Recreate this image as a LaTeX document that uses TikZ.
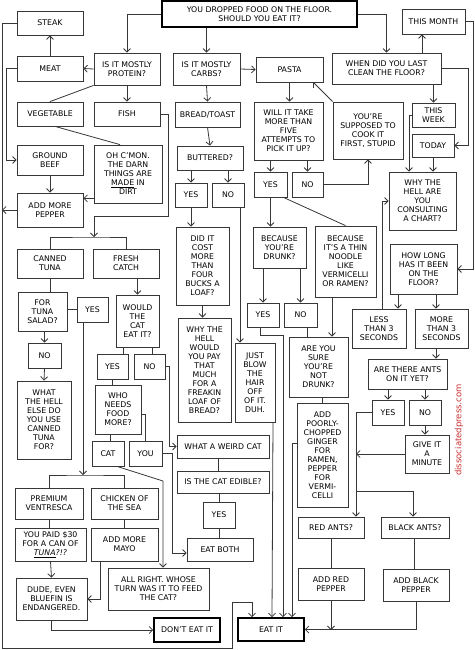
\documentclass[tikz,border=0pt]{standalone}
\usepackage{fontspec}
\setmainfont{DejaVu Sans}
\usetikzlibrary{arrows.meta}
\definecolor{ln}{RGB}{55,55,55}
\definecolor{wmred}{RGB}{200,45,45}

\begin{document}
\begin{tikzpicture}[
		x=1pt, y=-1pt,
		box/.style={draw=ln, align=center, inner sep=1pt, text=black, font=\fontsize{7.8}{9}\selectfont},
		endbox/.style={box, draw=black, line width=1.6pt},
		sz/.style 2 args={minimum width=#1, minimum height=#2},
		>={Straight Barb[length=3.5pt, width=7pt]},
		color=ln,
		line width=0.8pt
		]
		
		\useasboundingbox (0,0) rectangle (474,650);
		
		% Question at the top
		\node[endbox, sz={195}{26}] (start) at (259.5,14) {YOU DROPPED FOOD ON THE FLOOR.\\SHOULD YOU EAT IT?};
		
		% Protein branch
		\node[box, sz={66}{24}] (steak) at (50,23) {STEAK};
		\node[box, sz={66}{25}] (meat) at (50,68.5) {MEAT};
		\node[box, sz={66}{32}] (protein) at (127,69) {IS IT MOSTLY\\PROTEIN?};
		\node[box, sz={66}{24}] (vegetable) at (50,114) {VEGETABLE};
		\node[box, sz={66}{24}] (fish) at (127,114) {FISH};
		\node[box, sz={66}{30}] (groundbeef) at (50,160) {GROUND\\BEEF};
		\node[box, sz={68}{58}] (cmon) at (128,174) {OH C'MON.\\THE DARN\\THINGS ARE\\\underline{MADE} IN\\DIRT};
		\node[box, sz={66}{34}] (addpepper) at (50,210) {ADD MORE\\PEPPER};
		\node[box, sz={66}{29}] (canned) at (50,263.5) {CANNED\\TUNA};
		\node[box, sz={66}{29}] (fresh) at (126,263.5) {FRESH\\CATCH};
		\node[box, sz={49}{39}] (tunasalad) at (42.5,311.5) {FOR\\TUNA\\SALAD?};
		\node[box, sz={31}{25}] (yestuna) at (92.5,309.5) {YES};
		\node[box, sz={33}{25}] (notuna) at (44.5,355.5) {NO};
		\node[box, sz={54}{78}] (whatelse) at (44,420) {WHAT\\THE HELL\\ELSE DO\\YOU USE\\CANNED\\TUNA\\FOR?};
		\node[box, sz={43}{52}] (wouldcat) at (137.5,321) {WOULD\\THE\\CAT\\EAT IT?};
		\node[box, sz={31}{25}] (yescat) at (112.5,366.5) {YES};
		\node[box, sz={31}{25}] (nocat) at (149.5,366.5) {NO};
		\node[box, sz={46}{49}] (whoneeds) at (118,409.5) {WHO\\NEEDS\\FOOD\\MORE?};
		\node[box, sz={32}{25}] (cat) at (108,453.5) {CAT};
		\node[box, sz={33}{25}] (you) at (145.5,453.5) {YOU};
		\node[box, sz={68}{31}] (premium) at (49,503.5) {PREMIUM\\VENTRESCA};
		\node[box, sz={67}{31}] (chicken) at (124.5,503.5) {CHICKEN OF\\THE SEA};
		\node[box, sz={71}{33}] (paid) at (50.5,544.5) {YOU PAID \$30\\FOR A CAN OF\\\underline{\textit{TUNA}}\textit{?!?}};
		\node[box, sz={67}{33}] (mayo) at (124.5,544.5) {ADD MORE\\MAYO};
		\node[box, sz={71}{42}] (dude) at (51.5,599) {DUDE, EVEN\\BLUEFIN IS\\ENDANGERED.};
		\node[box, sz={101}{42}] (allright) at (158.5,589) {ALL RIGHT. WHOSE\\TURN WAS IT TO FEED\\THE CAT?};
		\node[endbox, sz={66}{24}] (donteat) at (187,630) {DON'T EAT IT};
		\node[endbox, sz={66}{23}] (eatit) at (271,629.5) {EAT IT};
		
		% Carbs branch
		\node[box, sz={67}{32}] (carbs) at (206.5,69) {IS IT MOSTLY\\CARBS?};
		\node[box, sz={65}{25}] (bread) at (207.5,114.5) {BREAD/TOAST};
		\node[box, sz={66}{24}] (buttered) at (210,158) {BUTTERED?};
		\node[box, sz={32}{24}] (yesbread) at (191,195) {YES};
		\node[box, sz={32}{24}] (nobread) at (228,195) {NO};
		\node[box, sz={53}{78}] (cost) at (202.5,266) {DID IT\\COST\\MORE\\THAN\\FOUR\\BUCKS A\\LOAF?};
		\node[box, sz={53}{104}] (whypay) at (204.5,370) {WHY THE\\HELL\\WOULD\\YOU PAY\\THAT\\MUCH\\FOR A\\FREAKIN\\LOAF OF\\BREAD?};
		\node[box, sz={40}{79}] (blow) at (255,382.5) {JUST\\BLOW\\THE\\HAIR\\OFF\\OF IT.\\DUH.};
		\node[box, sz={92}{23}] (weird) at (223,446.5) {WHAT A WEIRD CAT};
		\node[box, sz={92}{22}] (edible) at (223,482) {IS THE CAT EDIBLE?};
		\node[box, sz={32}{26}] (yesedible) at (219,515) {YES};
		\node[box, sz={66}{23}] (eatboth) at (220,549.5) {EAT BOTH};
		
		% Pasta branch
		\node[box, sz={67}{25}] (pasta) at (289.5,69.5) {PASTA};
		\node[box, sz={69}{58}] (fiveattempts) at (288.5,131) {WILL IT TAKE\\MORE THAN\\FIVE\\ATTEMPTS TO\\PICK IT UP?};
		\node[box, sz={33}{25}] (yesfive) at (270.5,184.5) {YES};
		\node[box, sz={31}{25}] (nofive) at (307.5,184.5) {NO};
		\node[box, sz={70}{57}] (cook) at (368,130.5) {YOU'RE\\SUPPOSED TO\\COOK IT\\FIRST, STUPID};
		\node[box, sz={53}{41}] (drunk) at (279.5,247.5) {BECAUSE\\YOU'RE\\DRUNK?};
		\node[box, sz={61}{71}] (noodle) at (345.5,261.5) {BECAUSE\\IT'S A THIN\\NOODLE\\LIKE\\VERMICELLI\\OR RAMEN?};
		\node[box, sz={32}{24}] (yesdrunk) at (263,315) {YES};
		\node[box, sz={33}{24}] (nodrunk) at (300.5,315) {NO};
		\node[box, sz={59}{60}] (sure) at (318.5,367) {ARE YOU\\SURE\\YOU'RE\\NOT\\DRUNK?};
		\node[box, sz={51}{104}] (ginger) at (322.5,455) {ADD\\POORLY-\\CHOPPED\\GINGER\\FOR\\RAMEN,\\PEPPER\\FOR\\VERMI-\\CELLI};
		
		% Floor branch
		\node[box, sz={109}{31}] (lastclean) at (386.5,68.5) {WHEN DID YOU LAST\\CLEAN THE FLOOR?};
		\node[box, sz={63}{25}] (month) at (433.5,21.5) {THIS MONTH};
		\node[box, sz={43}{24}] (week) at (433.5,115) {THIS\\WEEK};
		\node[box, sz={42}{23}] (today) at (433,145.5) {TODAY};
		\node[box, sz={67}{58}] (chart) at (422.5,201) {WHY THE\\HELL ARE\\YOU\\CONSULTING\\A CHART?};
		\node[box, sz={67}{50}] (howlong) at (423.5,269) {HOW LONG\\HAS IT BEEN\\ON THE\\FLOOR?};
		\node[box, sz={54}{39}] (less) at (379,328.5) {LESS\\THAN 3\\SECONDS};
		\node[box, sz={53}{39}] (more) at (441.5,328.5) {MORE\\THAN 3\\SECONDS};
		\node[box, sz={79}{30}] (ants) at (407.5,374) {ARE THERE ANTS\\ON IT YET?};
		\node[box, sz={32}{25}] (yesants) at (388,412.5) {YES};
		\node[box, sz={32}{25}] (noants) at (425,412.5) {NO};
		\node[box, sz={44}{38}] (minute) at (427,454) {GIVE IT\\A\\MINUTE};
		\node[box, sz={66}{21}] (redants) at (331,527.5) {RED ANTS?};
		\node[box, sz={68}{21}] (blackants) at (415,527.5) {BLACK ANTS?};
		\node[box, sz={66}{32}] (redpepper) at (331,584) {ADD RED\\PEPPER};
		\node[box, sz={66}{32}] (blackpepper) at (416,585) {ADD BLACK\\PEPPER};
		
		\node[rotate=90, text=wmred, font=\fontsize{8.5}{10}\selectfont] (credit) at (459,430) {dissociatedpress.com};
		
		% Bends and forks
		\coordinate (corner) at (2,648);
		\coordinate (eatbend) at (232,602);
		\coordinate (fishfork) at (94,237);
		\coordinate (tunafork) at (83,475);
		\coordinate (catbend) at (163,481);
		\coordinate (antsfork) at (356,491);
		\coordinate (pepperfork) at (331,630);
		
		% From the top
		\draw[->] (start.west) -| (protein.north);
		\draw[->] (carbs.north |- start.south) -- (carbs.north);
		\draw[->] (start.east) -| (lastclean.north);
		\draw[->] (carbs.east) -- (pasta.west);
		\draw[->] (carbs.south) -- (bread.north);
		\draw[->] (bread.south) -- (buttered.north);
		
		% Protein
		\draw[->] (protein.west) -- (meat.east);
		\draw[->] (protein.south) -- (fish.north);
		\draw (protein.south west) -- (vegetable.north);
		\draw[->] (meat.north) -- (steak.south);
		\draw[->] (meat.west) -- ++(-10,0) |- (groundbeef.west);
		\draw ([xshift=5]vegetable.south) -- ([xshift=-8]cmon.north);
		\draw[->] (groundbeef.south) -- (addpepper.north);
		\draw[->] ([yshift=5]cmon.south west) -- ([yshift=5]cmon.south west -| addpepper.east);
		\draw[->] (steak.west) -| (corner) -| (eatbend) -| ([xshift=-19]eatit.north);
		\draw[->] (addpepper.west) -- (addpepper.west -| corner);
		
		% Fish
		\draw[->] (fish.east) -- ++(8,0) |- ([yshift=21]fishfork) -- (fishfork);
		\draw (canned.north) |- (fishfork) -| (fresh.north);
		\draw (canned.south) -- (canned.south |- tunasalad.north);
		\draw (tunasalad.east |- yestuna.west) -- (yestuna.west);
		\draw[->] (notuna.north |- tunasalad.south) -- (notuna.north);
		\draw[->] (notuna.south) -- (whatelse.north);
		\draw[->] ([xshift=-9.5]yestuna.south) -- (tunafork);
		\draw (premium.north) |- (tunafork) -| (chicken.north);
		\draw (premium.south) -- (premium.south |- paid.north);
		\draw (chicken.south) -- (mayo.north);
		\draw[->] (paid.south) -- (dude.north);
		\draw[->] ([xshift=-24.5]mayo.south) |- (dude.east);
		\draw[->] (dude.south) |- (donteat.west);
		
		% Fresh catch
		\draw[->] (wouldcat.north |- fresh.south) -- (wouldcat.north);
		\draw ([xshift=-14.5]wouldcat.south) -- ([xshift=-14.5]wouldcat.south |- yescat.north);
		\draw ([xshift=14.5]wouldcat.south) -- ([xshift=14.5]wouldcat.south |- nocat.north);
		\draw (yescat.south) -- (yescat.south |- whoneeds.north);
		\draw ([xshift=-8]whoneeds.south) -- ([xshift=-8]whoneeds.south |- cat.north);
		\draw ([yshift=-4.5]whoneeds.east) -| (you.north);
		\draw[->] ([xshift=9]cat.south) -- (catbend) -- (catbend |- allright.north);
		\draw[->] (nocat.east) -- ++(4,0) |- (weird.west);
		\draw[->] (you.east) -- ++(10,0) |- ([yshift=-3.5]eatboth.west);
		\draw ([xshift=-5]weird.south) -- ([xshift=-5]edible.north);
		\draw (edible.south -| yesedible.north) -- (yesedible.north);
		\draw (yesedible.south) -- (yesedible.south |- eatboth.north);
		
		% Bread
		\draw[->] (yesbread.north |- buttered.south) -- (yesbread.north);
		\draw[->] (nobread.north |- buttered.south) -- (nobread.north);
		\draw[->] (yesbread.south) -- (yesbread.south |- cost.north);
		\draw[->] (cost.south) -- (cost.south |- whypay.north);
		\draw[->] ([xshift=12]nobread.south) -- ([xshift=12]nobread.south |- blow.north);
		\draw[->] ([xshift=18]blow.south) -- ([xshift=1]eatit.north);
		
		% Pasta
		\draw[->] (pasta.south) -- (pasta.south |- fiveattempts.north);
		\draw[->] (yesfive.north |- fiveattempts.south) -- (yesfive.north);
		\draw[->] (nofive.north |- fiveattempts.south) -- (nofive.north);
		\draw[->] (nofive.east) -| (cook.south);
		\draw[->] (cook.north west) -- ([xshift=-10]pasta.south east);
		\draw[->] (yesfive.south) -- (yesfive.south |- drunk.north);
		\draw ([xshift=-4]yesfive.south east) -- (noodle.north);
		\draw[->] (yesdrunk.north |- drunk.south) -- (yesdrunk.north);
		\draw[->] (nodrunk.north |- drunk.south) -- (nodrunk.north);
		\draw[->] ([xshift=-13.5]noodle.south) -- ([xshift=-13.5]noodle.south |- sure.north);
		\draw ([xshift=6.5]nodrunk.south) -- ([xshift=6.5]nodrunk.south |- sure.north);
		\draw[->] ([xshift=-3]yesdrunk.south) -- ++(0,8) -| ([xshift=12]eatit.north);
		\draw (sure.south -| ginger.north) -- (ginger.north);
		\draw[->] ([yshift=12]ginger.west) -| ([xshift=21]eatit.north);
		
		% Floor
		\draw[->] ([xshift=-11.5]month.south |- lastclean.north) -- ([xshift=-11.5]month.south);
		\draw[->] (week.north |- lastclean.south) -- (week.north);
		\draw[->] (lastclean.east) -- ++(27,0) |- (today.east);
		\draw[->] (month.east) -- ++(8,0) |- (howlong.east);
		\draw[->] (week.west) -| ([xshift=-13.5]chart.north);
		\draw[->] (today.south) -- (today.south |- chart.north);
		\draw[->] ([xshift=3]less.north) |- (chart.west);
		\draw[->] ([xshift=-25.5]howlong.south) -- ([xshift=-25.5]howlong.south |- less.north);
		\draw[->] ([xshift=12.5]howlong.south) -- ([xshift=12.5]howlong.south |- more.north);
		\draw[->] ([xshift=-5.5]more.south) -- ([xshift=-5.5]more.south |- ants.north);
		\draw[->] (yesants.north |- ants.south) -- (yesants.north);
		\draw[->] (noants.north |- ants.south) -- (noants.north);
		\draw[->] (noants.south) -- (noants.south |- minute.north);
		\draw[->] (yesants.west) -| ([xshift=25]redants.north);
		\draw[->] (antsfork) -| ([xshift=-2]blackants.north);
		\draw[->] (minute.west) -- (minute.west -| antsfork);
		\draw (redants.south) -- (redpepper.north);
		\draw ([xshift=-1]blackants.south) -- ([xshift=-1]blackants.south |- blackpepper.north);
		\draw[->] (redpepper.south) -- (pepperfork);
		\draw[->] (blackpepper.south) |- (eatit.east);
		
	\end{tikzpicture}
\end{document}
